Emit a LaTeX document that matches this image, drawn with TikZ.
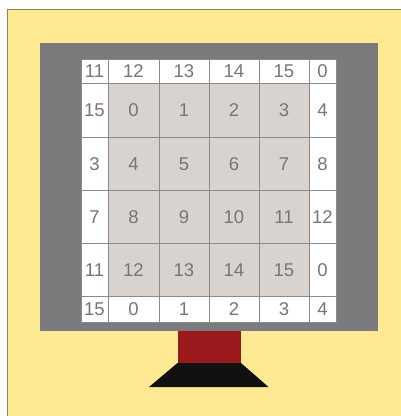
\documentclass[tikz,border=0pt]{standalone}
\usepackage{fontspec}
\setmainfont{Liberation Sans}
\definecolor{bgyellow}{HTML}{FFE993}
\definecolor{bgedge}{HTML}{8E8462}
\definecolor{monitor}{HTML}{7B7B7D}
\definecolor{innercell}{HTML}{D9D3D0}
\definecolor{gridline}{HTML}{8A8A8A}
\definecolor{digit}{HTML}{767676}
\definecolor{standred}{HTML}{9A1A1E}
\definecolor{standblack}{HTML}{111111}
\begin{document}
\begin{tikzpicture}[x=1pt,y=-1pt,
  cellbox/.style={draw=gridline, line width=0.9pt, inner sep=0pt, outer sep=0pt,
    text=digit, font=\fontsize{18.5}{18.5}\selectfont},
]
\useasboundingbox (0,0) rectangle (401,416);
\fill[white] (0,0) rectangle (401,416);
\draw[bgedge, line width=1.3pt, fill=bgyellow] (7.5,9.5) rectangle (410,425);
\fill[monitor] (40,43) rectangle (378,331);
\def\xs{{81,108,159,209,259,309,336}}
\def\ys{{59,83.5,137,190.5,243,296.5,322}}
\foreach \r in {0,...,5} {
  \foreach \c in {0,...,5} {
    \pgfmathsetmacro\xa{\xs[\c]}
    \pgfmathsetmacro\xb{\xs[\c+1]}
    \pgfmathsetmacro\ya{\ys[\r]}
    \pgfmathsetmacro\yb{\ys[\r+1]}
    \pgfmathtruncatemacro\v{mod(4*(\r-1)+(\c-1)+32,16)}
    \pgfmathtruncatemacro\inner{(\r>0)&&(\r<5)&&(\c>0)&&(\c<5)}
    \ifnum\inner=1 \def\cellfill{innercell}\else\def\cellfill{white}\fi
    \node[cellbox, fill=\cellfill, minimum width={(\xb-\xa)*1pt}, minimum height={(\yb-\ya)*1pt}]
      (cell-\r-\c) at ({(\xa+\xb)/2},{(\ya+\yb)/2}) {\v};
  }
}
\fill[standred] (177.5,331) rectangle (241,363);
\fill[standblack] (177.5,363) -- (241,363) -- (268.5,387) -- (149,387) -- cycle;
\end{tikzpicture}
\end{document}
